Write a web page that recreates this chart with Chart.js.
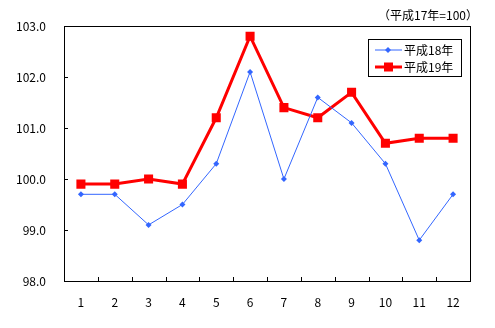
<!DOCTYPE html>
<html>
<head>
<meta charset="utf-8">
<script src="https://cdn.jsdelivr.net/npm/chart.js"></script>
<style>
  html, body { margin: 0; padding: 0; background: #fff; }
  #wrap { width: 495px; height: 328px; position: relative; }
</style>
</head>
<body>
<div id="wrap"><canvas id="indexChart"></canvas></div>
<script>
const months = ['1', '2', '3', '4', '5', '6', '7', '8', '9', '10', '11', '12'];
const h18 = [99.7, 99.7, 99.1, 99.5, 100.3, 102.1, 100.0, 101.6, 101.1, 100.3, 98.8, 99.7];
const h19 = [99.9, 99.9, 100.0, 99.9, 101.2, 102.8, 101.4, 101.2, 101.7, 100.7, 100.8, 100.8];
const yTicks = [98, 99, 100, 101, 102, 103];
const baseNote = '（平成17年=100）';

const FONT = "'Noto Sans CJK JP', 'Liberation Sans', sans-serif";

// box around plot area, inward tick marks, legend box and note
const framePlugin = {
    id: 'frame',
    afterDatasetsDraw(chart) {
        const ctx = chart.ctx;
        const a = chart.chartArea;
        const xs = chart.scales.x;
        const ys = chart.scales.y;
        ctx.save();
        ctx.strokeStyle = '#000';
        ctx.lineWidth = 1;
        ctx.strokeRect(Math.round(a.left) + 0.5, Math.round(a.top) + 0.5,
            Math.round(a.right - a.left), Math.round(a.bottom - a.top));

        ctx.beginPath();
        for (let i = 1; i < months.length; i++) {
            const x = Math.round((xs.getPixelForValue(i - 1) + xs.getPixelForValue(i)) / 2) + 0.5;
            ctx.moveTo(x, a.bottom);
            ctx.lineTo(x, a.bottom - 4);
        }
        yTicks.forEach(function (v) {
            const y = Math.round(ys.getPixelForValue(v)) + 0.5;
            ctx.moveTo(a.left, y);
            ctx.lineTo(a.left + 4, y);
        });
        ctx.stroke();

        // legend
        const lx = 368, ly = 39, lw = 93, lh = 37;
        ctx.fillStyle = '#fff';
        ctx.fillRect(lx, ly, lw, lh);
        ctx.strokeRect(lx + 0.5, ly + 0.5, lw, lh);
        ctx.font = '12px ' + FONT;
        ctx.textBaseline = 'middle';
        chart.data.datasets.forEach(function (ds, i) {
            const cy = ly + 11 + i * 17;
            ctx.strokeStyle = ds.borderColor;
            ctx.lineWidth = ds.borderWidth;
            ctx.beginPath();
            ctx.moveTo(lx + 7, cy);
            ctx.lineTo(lx + 34, cy);
            ctx.stroke();
            ctx.fillStyle = ds.backgroundColor;
            if (i === 0) {
                ctx.beginPath();
                ctx.moveTo(lx + 20, cy - 3);
                ctx.lineTo(lx + 23, cy);
                ctx.lineTo(lx + 20, cy + 3);
                ctx.lineTo(lx + 17, cy);
                ctx.closePath();
                ctx.fill();
            } else {
                ctx.fillRect(lx + 16, cy - 4.5, 9, 9);
            }
            ctx.fillStyle = '#000';
            ctx.textAlign = 'left';
            ctx.fillText(ds.label, lx + 36, cy);
        });

        ctx.font = '12px ' + FONT;
        ctx.textAlign = 'right';
        ctx.fillStyle = '#000';
        ctx.fillText(baseNote, 478, 15);
        ctx.restore();
    }
};

const ctx = document.getElementById('indexChart').getContext('2d');
const indexChart = new Chart(ctx, {
    type: 'line',
    data: {
        labels: months,
        datasets: [{
            label: '平成18年',
            data: h18,
            borderColor: '#3366ff',
            backgroundColor: '#3366ff',
            borderWidth: 1,
            pointStyle: 'rectRot',
            pointRadius: 3,
            pointBorderWidth: 0,
            tension: 0
        }, {
            label: '平成19年',
            data: h19,
            borderColor: '#ff0000',
            backgroundColor: '#ff0000',
            borderWidth: 3,
            pointStyle: 'rect',
            pointRadius: 6.4,
            pointBorderWidth: 0,
            tension: 0
        }]
    },
    options: {
        responsive: true,
        maintainAspectRatio: false,
        animation: false,
        layout: { padding: { left: 0, top: 26, right: 25, bottom: 0 } },
        plugins: {
            legend: { display: false },
            tooltip: { enabled: false }
        },
        scales: {
            x: {
                offset: true,
                border: { display: false },
                grid: { display: false, drawTicks: false },
                ticks: {
                    color: '#000',
                    padding: 14,
                    maxRotation: 0,
                    font: { family: FONT, size: 12 }
                },
                afterFit: function (scale) { scale.height = 47; }
            },
            y: {
                min: 98,
                max: 103,
                border: { display: false },
                grid: { display: false, drawTicks: false },
                afterBuildTicks: function (scale) {
                    scale.ticks = yTicks.map(function (v) { return { value: v }; });
                },
                ticks: {
                    color: '#000',
                    padding: 18,
                    font: { family: FONT, size: 12 },
                    callback: function (value) { return Number(value).toFixed(1); }
                },
                afterFit: function (scale) { scale.width = 64; }
            }
        }
    },
    plugins: [framePlugin]
});
</script>
</body>
</html>
